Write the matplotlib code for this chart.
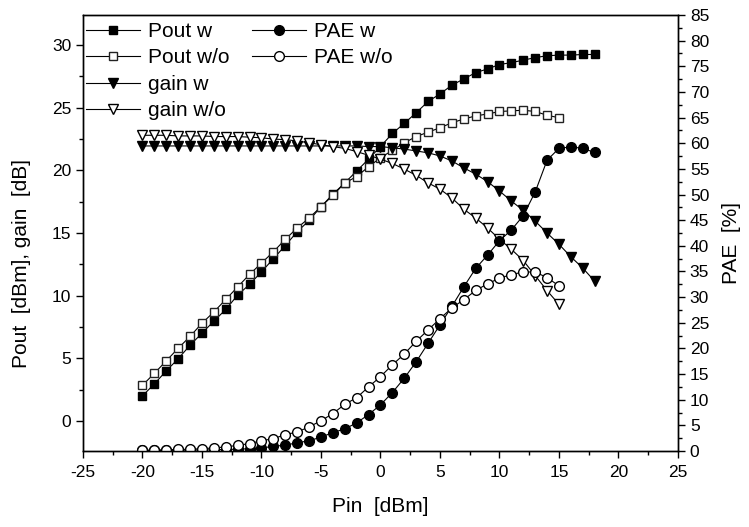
import matplotlib
matplotlib.use('Agg')
import matplotlib.pyplot as plt
from matplotlib.ticker import MultipleLocator

plt.rcParams['font.family'] = ['Liberation Sans', 'DejaVu Sans']
plt.rcParams['axes.unicode_minus'] = False

# input power sweeps (dBm)
pin_w = list(range(-20, 19))    # "with" curves: -20 .. 18
pin_wo = list(range(-20, 16))   # "without" curves: -20 .. 15

# output power (dBm)
pout_w = [2.0, 2.96, 4.0, 4.96, 6.05, 7.0, 7.97, 8.9, 10.05, 10.9,
          11.9, 12.95, 14.0, 15.1, 16.0, 17.1, 18.1, 19.0, 19.95, 20.9,
          21.9, 22.95, 23.75, 24.6, 25.5, 26.1, 26.8, 27.3, 27.8, 28.1,
          28.45, 28.6, 28.8, 29.0, 29.15, 29.2, 29.2, 29.25, 29.25]
pout_wo = [2.85, 3.8, 4.8, 5.8, 6.75, 7.8, 8.7, 9.7, 10.7, 11.7,
           12.6, 13.5, 14.5, 15.4, 16.2, 17.1, 18.0, 19.0, 19.5, 20.3,
           21.0, 21.6, 22.2, 22.7, 23.05, 23.4, 23.8, 24.1, 24.35, 24.5,
           24.7, 24.75, 24.8, 24.7, 24.4, 24.2]

# gain (dB)
gain_w = [21.95, 21.95, 21.95, 21.95, 21.95, 21.95, 21.95, 21.95, 21.95, 21.95,
          21.95, 21.95, 21.95, 21.95, 21.95, 21.95, 21.95, 21.95, 21.95, 21.9,
          21.9, 21.8, 21.7, 21.55, 21.4, 21.15, 20.75, 20.2, 19.7, 19.1,
          18.35, 17.55, 16.8, 15.95, 15.0, 14.1, 13.1, 12.2, 11.15]
gain_wo = [22.8, 22.8, 22.8, 22.75, 22.75, 22.75, 22.7, 22.7, 22.7, 22.65,
           22.6, 22.5, 22.45, 22.35, 22.2, 22.05, 21.9, 21.75, 21.5, 21.2,
           20.9, 20.55, 20.1, 19.6, 19.0, 18.5, 17.8, 16.9, 16.2, 15.4,
           14.5, 13.7, 12.8, 11.6, 10.4, 9.3]

# power added efficiency (%)
pae_w = [0.1, 0.1, 0.1, 0.15, 0.2, 0.2, 0.25, 0.3, 0.35, 0.45,
         0.6, 0.9, 1.15, 1.6, 2.0, 2.7, 3.6, 4.3, 5.5, 7.1,
         9.0, 11.4, 14.2, 17.4, 21.0, 24.6, 28.2, 32.0, 35.6, 38.2,
         41.0, 43.1, 45.9, 50.5, 56.7, 59.0, 59.3, 59.0, 58.2]
pae_wo = [0.15, 0.2, 0.25, 0.3, 0.35, 0.45, 0.6, 0.8, 1.1, 1.45,
          2.0, 2.4, 3.2, 3.7, 4.7, 5.9, 7.3, 9.1, 10.4, 12.5,
          14.5, 16.8, 18.9, 21.4, 23.6, 25.8, 27.9, 29.5, 31.3, 32.6,
          33.7, 34.4, 34.9, 34.9, 33.8, 32.2]

fig = plt.figure(figsize=(7.49, 5.27), dpi=100)
ax = fig.add_axes([0.1108, 0.1442, 0.7944, 0.8273])
ax2 = ax.twinx()

lw = 0.8
l1, = ax.plot(pin_w, pout_w, 's-', color='black', ms=6, lw=lw, label='Pout w')
l2, = ax.plot(pin_wo, pout_wo, 's-', color='black', mfc='white', mec='#222222', ms=6, lw=lw, label='Pout w/o')
l3, = ax.plot(pin_w, gain_w, 'v-', color='black', ms=7, lw=lw, label='gain w')
l4, = ax.plot(pin_wo, gain_wo, 'v-', color='black', mfc='white', ms=7, lw=lw, label='gain w/o')
l5, = ax2.plot(pin_w, pae_w, 'o-', color='black', ms=7, lw=lw, label='PAE w')
l6, = ax2.plot(pin_wo, pae_wo, 'o-', color='black', mfc='white', ms=7, lw=lw, label='PAE w/o')

ax.set_xlim(-25, 25)
ax.set_ylim(-2.4, 32.4)
ax2.set_ylim(0, 85)

ax.xaxis.set_major_locator(MultipleLocator(5))
ax.xaxis.set_minor_locator(MultipleLocator(2.5))
ax.yaxis.set_major_locator(MultipleLocator(5))
ax.yaxis.set_minor_locator(MultipleLocator(2.5))
ax2.yaxis.set_major_locator(MultipleLocator(5))
ax2.yaxis.set_minor_locator(MultipleLocator(2.5))

for a in (ax, ax2):
    a.tick_params(which='major', direction='out', length=5, width=1, labelsize=12.5)
    a.tick_params(which='minor', direction='out', length=3, width=1)
    for s in a.spines.values():
        s.set_linewidth(1.0)
ax.tick_params(which='both', right=False, top=False)
ax.tick_params(axis='x', pad=5)

ax.set_xlabel('Pin  [dBm]', fontsize=15, labelpad=12)
ax.set_ylabel('Pout  [dBm], gain  [dB]', fontsize=15)
ax2.set_ylabel('PAE  [%]', fontsize=15)
ax.yaxis.set_label_coords(-0.087, 0.43)
ax2.yaxis.set_label_coords(1.074, 0.477)

leg_kw = dict(frameon=False, fontsize=15, numpoints=1, handlelength=2.6,
              handletextpad=0.4, labelspacing=0.36, borderpad=0.0, borderaxespad=0.0)
ax.legend(handles=[l1, l2, l3, l4], loc='upper left', bbox_to_anchor=(0.005, 0.984), **leg_kw)
ax2.legend(handles=[l5, l6], loc='upper left', bbox_to_anchor=(0.284, 0.984), **leg_kw)

fig.savefig('out.png', dpi=100)
